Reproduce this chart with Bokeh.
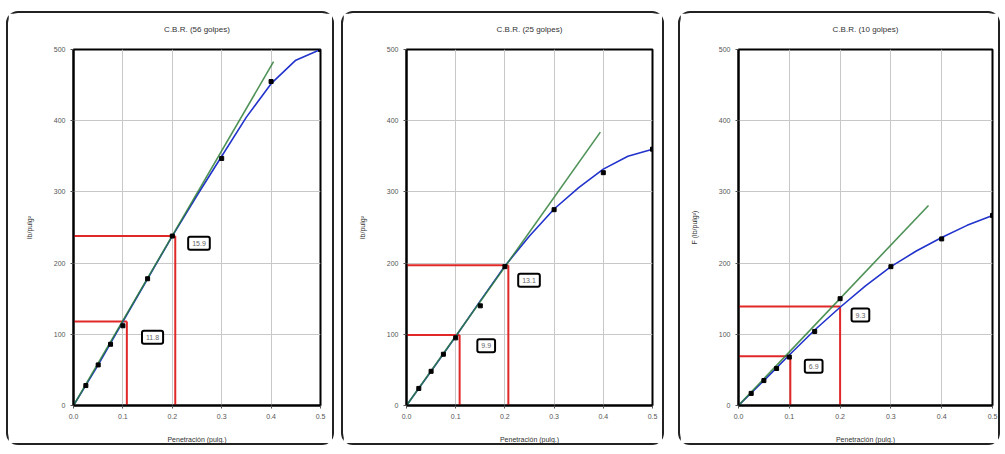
from bokeh.plotting import figure
from bokeh.layouts import row
from bokeh.models import Label, Range1d, FixedTicker, NumeralTickFormatter, Title
from bokeh.embed import file_html
from bokeh.resources import INLINE

titles = ["C.B.R. (56 golpes)", "C.B.R. (25 golpes)", "C.B.R. (10 golpes)"]
y_labels = ["lb/pulg²", "lb/pulg²", "F (lb/pulg²)"]
x_label = "Penetración (pulg.)"

# measured points (penetration in inches, load)
pen = [0.025, 0.05, 0.075, 0.1, 0.15, 0.2, 0.3, 0.4, 0.5]
load_56 = [28, 57, 86, 112, 178, 238, 347, 455, 500]
load_25 = [24, 48, 72, 95, 140, 195, 275, 327, 360]
load_10 = [17, 35, 52, 68, 104, 150, 195, 234, 267]

# smooth fitted curve
curve_x = [0.0, 0.05, 0.1, 0.15, 0.2, 0.25, 0.3, 0.35, 0.4, 0.45, 0.5]
curve_56 = [0, 57, 118, 178, 238, 295, 350, 405, 452, 485, 500]
curve_25 = [0, 48, 97, 147, 196, 238, 276, 306, 332, 350, 360]
curve_10 = [0, 35, 71, 106, 138, 168, 195, 217, 236, 253, 267]

# straight tangent line end points
tangent_x = [0.405, 0.394, 0.374]
tangent_y = [483, 384, 281]

# corrected readings at 0.1 and 0.2 in
read_x_56 = [0.108, 0.206]
read_y_56 = [118, 238]
read_x_25 = [0.108, 0.207]
read_y_25 = [99, 197]
read_x_10 = [0.102, 0.200]
read_y_10 = [69, 139]

cbr_56 = ["11.8", "15.9"]
cbr_25 = ["9.9", "13.1"]
cbr_10 = ["6.9", "9.3"]

x_ticks = [0.0, 0.1, 0.2, 0.3, 0.4, 0.5]
y_ticks = [0, 100, 200, 300, 400, 500]

# label box anchor positions (data coords)
box_pos = [
    [(0.160, 96), (0.254, 228)],
    [(0.162, 84), (0.249, 176)],
    [(0.148, 55), (0.240, 127)],
]

loads = [load_56, load_25, load_10]
curves = [curve_56, curve_25, curve_10]
read_x = [read_x_56, read_x_25, read_x_10]
read_y = [read_y_56, read_y_25, read_y_10]
cbrs = [cbr_56, cbr_25, cbr_10]

geom = [
    dict(width=328, left=65, right=16, top=36, bottom=42, margin=(11, 0, 0, 6)),
    dict(width=323, left=63, right=14, top=36, bottom=41, margin=(11, 0, 0, 7)),
    dict(width=322, left=58, right=10, top=33, bottom=42, margin=(11, 0, 0, 14)),
]

FONT = "Liberation Sans"
figs = []
for i in range(3):
    g = geom[i]
    p = figure(width=g["width"], height=434, output_backend="svg", toolbar_location=None,
               x_range=Range1d(0, 0.5), y_range=Range1d(0, 500),
               min_border_left=g["left"], min_border_right=g["right"],
               min_border_top=g["top"], min_border_bottom=g["bottom"],
               margin=g["margin"], title=titles[i])
    p.styles = {"border": "2px solid #222", "border-radius": "12px", "box-sizing": "border-box"}
    p.title.align = "center"
    p.title.text_font = FONT
    p.title.text_font_size = "8px"
    p.title.text_font_style = "normal"
    p.title.text_color = "#333333"
    # spacer between title and plot frame
    p.add_layout(Title(text=" ", text_font_size="8px", standoff=0), "above")
    p.outline_line_color = "black"
    p.outline_line_width = 2
    for ax in (p.xaxis[0], p.yaxis[0]):
        ax.axis_line_color = "black"
        ax.axis_line_width = 2
        ax.major_tick_line_color = "#555555"
        ax.major_tick_out = 3
        ax.major_tick_in = 0
        ax.minor_tick_line_color = None
        ax.major_label_text_font = FONT
        ax.major_label_text_font_size = "7px"
        ax.major_label_text_color = "#555555"
        ax.axis_label_text_font = FONT
        ax.axis_label_text_font_size = "7px"
        ax.axis_label_text_font_style = "normal"
        ax.axis_label_text_color = "#333333"
    p.xaxis.ticker = FixedTicker(ticks=x_ticks)
    p.xaxis.formatter = NumeralTickFormatter(format="0.0")
    p.yaxis.ticker = FixedTicker(ticks=y_ticks)
    p.xaxis.axis_label = x_label
    p.yaxis.axis_label = y_labels[i]
    p.xaxis.axis_label_standoff = 14
    p.yaxis.axis_label_standoff = 18
    p.grid.grid_line_color = "#c8c8c8"
    p.grid.grid_line_width = 1

    # red reading lines
    for rx, ry in zip(read_x[i], read_y[i]):
        p.line([0, rx], [ry, ry], line_color="#e02828", line_width=2)
        p.line([rx, rx], [0, ry], line_color="#e02828", line_width=2)

    # fitted curve
    p.line(curve_x, curves[i], line_color="#2233cc", line_width=1.6)
    # tangent line
    p.line([0, tangent_x[i]], [0, tangent_y[i]], line_color="#2f7f3a", line_width=1.6, line_alpha=0.85)
    # data points
    p.scatter(pen, loads[i], marker="square", size=4, color="black")

    for (bx, by), txt in zip(box_pos[i], cbrs[i]):
        p.add_layout(Label(x=bx, y=by, text=txt, text_align="center", text_baseline="middle",
                           text_font=FONT, text_font_size="7px", text_color="#666666",
                           background_fill_color="white", border_line_color="black",
                           border_line_width=2, padding=4, border_radius=2))
    figs.append(p)

layout = row(*figs)
open("out.html", "w").write(file_html(layout, INLINE))
